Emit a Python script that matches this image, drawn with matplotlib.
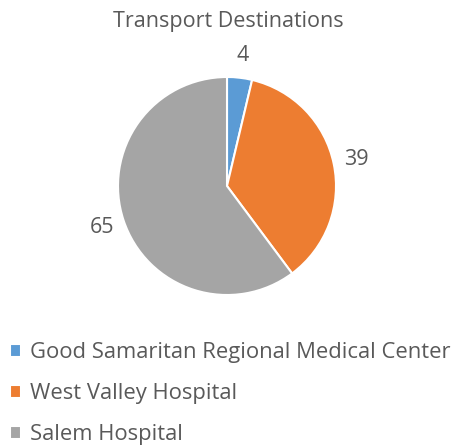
import matplotlib
matplotlib.use("Agg")
import matplotlib.pyplot as plt

categories = ["Good Samaritan Regional Medical Center", "West Valley Hospital", "Salem Hospital"]
values = [4, 39, 65]
colors = ["#5B9BD5", "#ED7D31", "#A5A5A5"]
title = "Transport Destinations"

plt.rcParams['font.family'] = ['Open Sans', 'DejaVu Sans']
text_color = "#595959"

W, H = 456, 447
fig = plt.figure(figsize=(W / 100, H / 100), dpi=100)
cx, cy, r = 227, 186, 109
ax = fig.add_axes([(cx - r) / W, (H - cy - r) / H, 2 * r / W, 2 * r / H])
wedges, texts = ax.pie(values, colors=colors, startangle=90, counterclock=False,
                       labels=[str(v) for v in values], labeldistance=1.21,
                       wedgeprops=dict(edgecolor="white", linewidth=1.5),
                       textprops=dict(color=text_color, fontsize=15.5))
for t in texts:
    t.set_ha("center")
    t.set_va("center")
ax.set_xlim(-1, 1)
ax.set_ylim(-1, 1)
ax.set_aspect("equal")

fig.text(228 / W, 1 - 21 / H, title, ha="center", va="center", fontsize=15.5, color=text_color)

leg = fig.legend(wedges, categories, loc="upper left", bbox_to_anchor=(10 / W, 1 - 342 / H),
                 frameon=False, handlelength=0.52, handleheight=0.52, handletextpad=0.38,
                 labelspacing=0.92, fontsize=15.8, labelcolor=text_color, borderaxespad=0,
                 borderpad=0)
fig.savefig("out.png", dpi=100)
